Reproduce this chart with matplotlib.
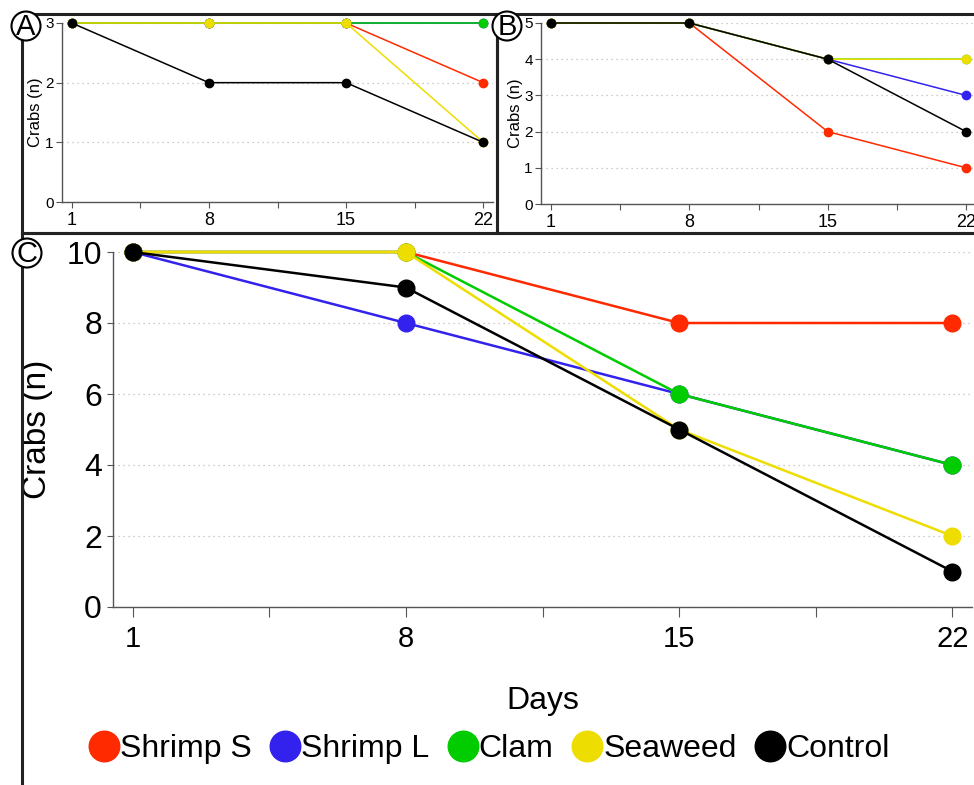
import matplotlib
matplotlib.use('Agg')
import matplotlib.pyplot as plt
from matplotlib.lines import Line2D
from matplotlib.patches import Rectangle, Circle

# Dias de muestreo
dias = [1, 8, 15, 22]
series = ['Shrimp S', 'Shrimp L', 'Clam', 'Seaweed', 'Control']
colores = ['#ff2a00', '#3322ee', '#00cc00', '#eedd00', '#000000']

# Panel A
a_shrimp_s = [3, 3, 3, 2]
a_shrimp_l = [3, 3, 3, 3]
a_clam = [3, 3, 3, 3]
a_seaweed = [3, 3, 3, 1]
a_control = [3, 2, 2, 1]

# Panel B
b_shrimp_s = [5, 5, 2, 1]
b_shrimp_l = [5, 5, 4, 3]
b_clam = [5, 5, 4, 4]
b_seaweed = [5, 5, 4, 4]
b_control = [5, 5, 4, 2]

# Panel C
c_shrimp_s = [10, 10, 8, 8]
c_shrimp_l = [10, 8, 6, 4]
c_clam = [10, 10, 6, 4]
c_seaweed = [10, 10, 5, 2]
c_control = [10, 9, 5, 1]

xticks_menores = [1, 4.5, 8, 11.5, 15, 18.5, 22]
xtick_labels = ['1', '', '8', '', '15', '', '22']

arial = ['Liberation Sans', 'DejaVu Sans']
narrow = ['Liberation Sans Narrow', 'Liberation Sans', 'DejaVu Sans']
gris = '#555555'

fig = plt.figure(figsize=(9.74, 7.85), dpi=100)


def panel(rect, datos, ymax, fs_y, fs_x, fs_lab, lw, ms, tick_len):
    ax = fig.add_axes(rect)
    for vals, c in zip(datos, colores):
        ax.plot(dias, vals, '-o', color=c, lw=lw, ms=ms, clip_on=False)
    ax.set_xlim(0.5, 22.5)
    ax.set_ylim(0, ymax)
    ax.set_yticks(range(0, ymax + 1, 2 if ymax == 10 else 1))
    ax.set_xticks(xticks_menores)
    ax.set_xticklabels(xtick_labels, fontsize=fs_x, family=narrow)
    for lab in ax.get_yticklabels():
        lab.set_fontsize(fs_y)
        lab.set_family(arial)
    ax.set_ylabel('Crabs (n)', fontsize=fs_lab, family=arial)
    for s in ['top', 'right']:
        ax.spines[s].set_visible(False)
    for s in ['left', 'bottom']:
        ax.spines[s].set_color(gris)
        ax.spines[s].set_linewidth(1.0)
    ax.tick_params(axis='x', length=tick_len, color=gris, pad=3)
    ax.tick_params(axis='y', length=4, color=gris, pad=2)
    ax.yaxis.grid(True, ls=(0, (1, 3)), color='#bbbbbb', lw=0.9)
    ax.set_axisbelow(True)
    ax.patch.set_alpha(0)
    return ax


W, H = 974, 785


def frac(x0, y0, x1, y1):
    return [x0 / W, 1 - y1 / H, (x1 - x0) / W, (y1 - y0) / H]


axA = panel(frac(62, 23, 493, 202),
            [a_shrimp_s, a_clam, a_shrimp_l, a_seaweed, a_control],
            3, 11, 13, 12, 1.1, 6, 4)
axA.yaxis.set_label_coords(-0.044, 0.5)

axB = panel(frac(541, 23, 976, 204),
            [b_shrimp_s, b_shrimp_l, b_clam, b_seaweed, b_control],
            5, 11, 13, 12, 1.1, 6, 4)
axB.yaxis.set_label_coords(-0.041, 0.5)

axC = panel(frac(113, 252, 972, 607),
            [c_shrimp_s, c_shrimp_l, c_clam, c_seaweed, c_control],
            10, 23, 21, 24, 1.8, 12, 7)
axC.tick_params(axis='x', pad=6)
axC.tick_params(axis='y', pad=4)
axC.set_xlabel('Days', fontsize=23, family=narrow, labelpad=24)
axC.yaxis.set_label_coords(-0.070, 0.5)

# Marcos de los paneles
marco = dict(transform=None, fill=False, ec='#222222', lw=2.2)
fig.patches.append(Rectangle((22, H - 233), 475, 219, **marco))
fig.patches.append(Rectangle((497, H - 233), 500, 219, **marco))
fig.add_artist(Line2D([22, 22], [H - 233, 0], transform=None,
                      color='#222222', lw=2.2))
fig.add_artist(Line2D([22, W], [H - 233, H - 233], transform=None,
                      color='#222222', lw=2.2))

# Letras en circulos
for letra, (cx, cy) in zip(['A', 'B', 'C'], [(26, 26), (507, 26), (27, 253)]):
    fig.patches.append(Circle((cx, H - cy), 14.5, transform=None,
                              fc='white', ec='black', lw=1.5, zorder=5))
    fig.text(cx / W, 1 - (cy + 1) / H, letra, ha='center', va='center',
             fontsize=21, family=arial, zorder=6)

# Leyenda
handles = [Line2D([], [], ls='none', marker='o', ms=22, color=c)
           for c in colores]
fig.legend(handles, series, loc='center', bbox_to_anchor=(0.5, 0.046),
           ncol=5, frameon=False, handletextpad=-0.1, columnspacing=0.45,
           handlelength=1.2, prop={'family': narrow, 'size': 23})

fig.savefig('out.png', dpi=100)
